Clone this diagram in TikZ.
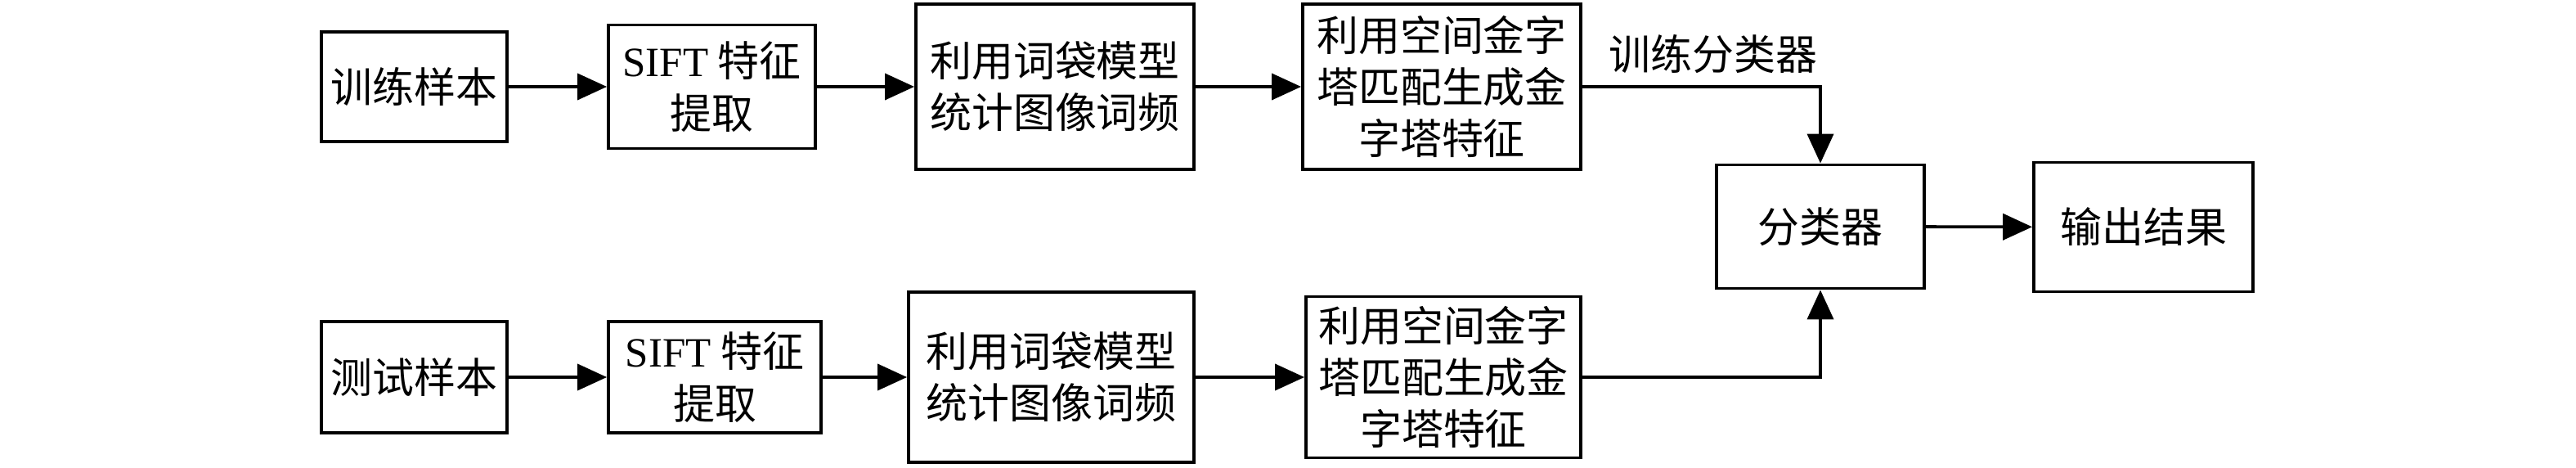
\documentclass[tikz,border=0pt]{standalone}
\usepackage{fontspec}
\setmainfont{Liberation Serif}
\newfontfamily\cjk{Noto Sans CJK SC}
\usetikzlibrary{arrows.meta}
\tikzset{
	box/.style={draw,line width=1.1pt,align=center,inner sep=1pt,font=\cjk\fontsize{14.5pt}{18pt}\selectfont},
	lbl/.style={inner sep=0pt,font=\cjk\fontsize{14.5pt}{18pt}\selectfont},
	arr/.style={line width=1.1pt,-{Triangle[length=3.6mm,width=3.2mm]}}
}
\newcommand{\lat}[1]{{\rmfamily #1}}
\begin{document}
\begin{tikzpicture}
		\useasboundingbox (0,0) rectangle (31.5,5.71);
			\node[box,minimum width=2.27cm,minimum height=1.34cm] (tr1) at (5.065,4.65) {训练样本};
			\node[box,minimum width=2.53cm,minimum height=1.51cm] (tr2) at (8.705,4.65) {\lat{SIFT} 特征\\提取};
			\node[box,minimum width=3.40cm,minimum height=2.02cm] (tr3) at (12.90,4.65) {利用词袋模型\\统计图像词频};
			\node[box,minimum width=3.40cm,minimum height=2.02cm] (tr4) at (17.63,4.65) {利用空间金字\\塔匹配生成金\\字塔特征};
			\node[box,minimum width=2.27cm,minimum height=1.36cm] (te1) at (5.065,1.10) {测试样本};
			\node[box,minimum width=2.60cm,minimum height=1.36cm] (te2) at (8.74,1.10) {\lat{SIFT} 特征\\提取};
			\node[box,minimum width=3.49cm,minimum height=2.08cm] (te3) at (12.855,1.10) {利用词袋模型\\统计图像词频};
			\node[box,minimum width=3.36cm,minimum height=1.97cm] (te4) at (17.65,1.10) {利用空间金字\\塔匹配生成金\\字塔特征};
			\node[box,minimum width=2.54cm,minimum height=1.51cm] (cls) at (22.26,2.94) {分类器};
			\node[box,minimum width=2.68cm,minimum height=1.58cm] (res) at (26.21,2.935) {输出结果};
			\node[lbl] (trn) at (20.95,5.05) {训练分类器};
			\draw[arr] (tr1)--(tr2);
			\draw[arr] (tr2)--(tr3);
			\draw[arr] (tr3)--(tr4);
			\draw[arr] (tr4.east)-|(cls.north);
			\draw[arr] (te1)--(te2);
			\draw[arr] (te2)--(te3);
			\draw[arr] (te3)--(te4);
			\draw[arr] (te4.east)-|(cls.south);
			\draw[arr] (cls)--(res);
	\end{tikzpicture}
\end{document}
